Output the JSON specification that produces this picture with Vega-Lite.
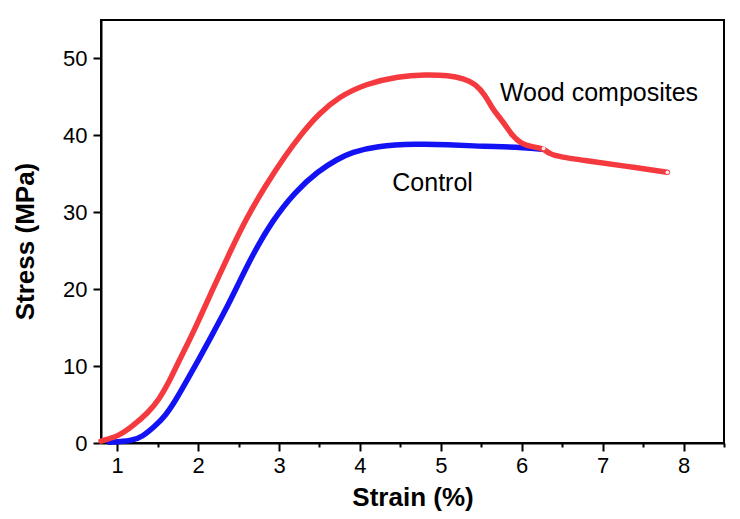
{
  "$schema": "https://vega.github.io/schema/vega-lite/v6.json",
  "width": 623,
  "height": 423,
  "autosize": {"type": "none"},
  "padding": {"left": 101, "top": 20, "right": 16, "bottom": 76},
  "config": {
    "view": {"stroke": "black", "strokeWidth": 2},
    "font": "Liberation Sans"
  },
  "datasets": {
    "control": [
      {"series": "Control", "strain": 0.9, "stress": 0.1},
      {"series": "Control", "strain": 1.18, "stress": 0.25},
      {"series": "Control", "strain": 1.31, "stress": 0.8},
      {"series": "Control", "strain": 1.47, "stress": 2.2},
      {"series": "Control", "strain": 1.6, "stress": 3.6},
      {"series": "Control", "strain": 1.72, "stress": 5.5},
      {"series": "Control", "strain": 1.85, "stress": 7.9},
      {"series": "Control", "strain": 2.01, "stress": 10.9},
      {"series": "Control", "strain": 2.17, "stress": 14.0},
      {"series": "Control", "strain": 2.34, "stress": 17.3},
      {"series": "Control", "strain": 2.48, "stress": 20.3},
      {"series": "Control", "strain": 2.67, "stress": 24.4},
      {"series": "Control", "strain": 2.91, "stress": 28.8},
      {"series": "Control", "strain": 3.2, "stress": 32.7},
      {"series": "Control", "strain": 3.49, "stress": 35.4},
      {"series": "Control", "strain": 3.72, "stress": 36.9},
      {"series": "Control", "strain": 3.9, "stress": 37.8},
      {"series": "Control", "strain": 4.2, "stress": 38.6},
      {"series": "Control", "strain": 4.69, "stress": 38.9},
      {"series": "Control", "strain": 5.1, "stress": 38.8},
      {"series": "Control", "strain": 5.43, "stress": 38.6},
      {"series": "Control", "strain": 5.63, "stress": 38.6},
      {"series": "Control", "strain": 6.05, "stress": 38.4},
      {"series": "Control", "strain": 6.25, "stress": 38.2}
    ],
    "wood": [
      {"series": "Wood composites", "strain": 0.8, "stress": 0.25},
      {"series": "Wood composites", "strain": 1.02, "stress": 0.9},
      {"series": "Wood composites", "strain": 1.18, "stress": 2.1},
      {"series": "Wood composites", "strain": 1.39, "stress": 4.0},
      {"series": "Wood composites", "strain": 1.52, "stress": 5.7},
      {"series": "Wood composites", "strain": 1.64, "stress": 7.9},
      {"series": "Wood composites", "strain": 1.76, "stress": 10.6},
      {"series": "Wood composites", "strain": 1.89, "stress": 13.3},
      {"series": "Wood composites", "strain": 2.01, "stress": 16.0},
      {"series": "Wood composites", "strain": 2.13, "stress": 18.8},
      {"series": "Wood composites", "strain": 2.23, "stress": 21.1},
      {"series": "Wood composites", "strain": 2.38, "stress": 24.5},
      {"series": "Wood composites", "strain": 2.59, "stress": 29.1},
      {"series": "Wood composites", "strain": 2.84, "stress": 33.6},
      {"series": "Wood composites", "strain": 3.08, "stress": 37.4},
      {"series": "Wood composites", "strain": 3.27, "stress": 40.1},
      {"series": "Wood composites", "strain": 3.49, "stress": 42.8},
      {"series": "Wood composites", "strain": 3.74, "stress": 45.0},
      {"series": "Wood composites", "strain": 4.07, "stress": 46.7},
      {"series": "Wood composites", "strain": 4.48, "stress": 47.7},
      {"series": "Wood composites", "strain": 4.81, "stress": 47.9},
      {"series": "Wood composites", "strain": 5.1, "stress": 47.8},
      {"series": "Wood composites", "strain": 5.28, "stress": 47.4},
      {"series": "Wood composites", "strain": 5.43, "stress": 46.7},
      {"series": "Wood composites", "strain": 5.55, "stress": 45.2},
      {"series": "Wood composites", "strain": 5.63, "stress": 43.6},
      {"series": "Wood composites", "strain": 5.72, "stress": 42.4},
      {"series": "Wood composites", "strain": 5.8, "stress": 41.3},
      {"series": "Wood composites", "strain": 5.88, "stress": 40.0},
      {"series": "Wood composites", "strain": 5.99, "stress": 38.9},
      {"series": "Wood composites", "strain": 6.13, "stress": 38.5},
      {"series": "Wood composites", "strain": 6.27, "stress": 38.3},
      {"series": "Wood composites", "strain": 6.34, "stress": 37.6},
      {"series": "Wood composites", "strain": 6.46, "stress": 37.2},
      {"series": "Wood composites", "strain": 6.87, "stress": 36.6},
      {"series": "Wood composites", "strain": 7.28, "stress": 36.0},
      {"series": "Wood composites", "strain": 7.8, "stress": 35.2}
    ],
    "labels": [
      {"label": "Wood composites", "strain": 5.73, "stress": 44.5},
      {"label": "Control", "strain": 4.4, "stress": 32.8}
    ],
    "ends": [
      {"strain": 7.8, "stress": 35.2},
      {"strain": 6.27, "stress": 38.3}
    ]
  },
  "layer": [
    {
      "data": {"name": "control"},
      "mark": {"type": "line", "strokeWidth": 5.5, "interpolate": "basis", "strokeCap": "round", "color": "#1212f5"},
      "encoding": {
        "x": {
          "field": "strain", "type": "quantitative",
          "scale": {"domain": [0.8, 8.5], "nice": false, "zero": false},
          "axis": {
            "title": "Strain (%)",
            "values": [1, 1.5, 2, 2.5, 3, 3.5, 4, 4.5, 5, 5.5, 6, 6.5, 7, 7.5, 8, 8.5],
            "labelExpr": "datum.value % 1 === 0 ? format(datum.value, 'd') : ''",
            "tickSize": {"condition": {"test": "datum.value % 1 === 0", "value": 8}, "value": 4},
            "grid": false,
            "domainColor": "black", "domainWidth": 2,
            "tickColor": "black", "tickWidth": 2,
            "labelFontSize": 22, "labelColor": "black", "labelPadding": 4,
            "labelFont": "Liberation Sans",
            "titleFontSize": 26, "titleFontWeight": "bold", "titleColor": "black",
            "titleFont": "Liberation Sans", "titlePadding": 8
          }
        },
        "y": {
          "field": "stress", "type": "quantitative",
          "scale": {"domain": [0, 55], "nice": false},
          "axis": {
            "title": "Stress (MPa)",
            "values": [0, 5, 10, 15, 20, 25, 30, 35, 40, 45, 50, 55],
            "labelExpr": "datum.value % 10 === 0 ? format(datum.value, 'd') : ''",
            "tickSize": {"condition": {"test": "datum.value % 10 === 0", "value": 8}, "value": 4},
            "grid": false,
            "domainColor": "black", "domainWidth": 2,
            "tickColor": "black", "tickWidth": 2,
            "labelFontSize": 22, "labelColor": "black", "labelPadding": 6,
            "labelFont": "Liberation Sans",
            "titleFontSize": 26, "titleFontWeight": "bold", "titleColor": "black",
            "titleFont": "Liberation Sans", "titlePadding": 24, "titleY": 221
          }
        }
      }
    },
    {
      "data": {"name": "wood"},
      "mark": {"type": "line", "strokeWidth": 5.5, "interpolate": "basis", "strokeCap": "round", "color": "#f53a3f"},
      "encoding": {
        "x": {"field": "strain", "type": "quantitative"},
        "y": {"field": "stress", "type": "quantitative"}
      }
    },
    {
      "data": {"name": "ends"},
      "mark": {"type": "point", "shape": "circle", "filled": true, "size": 14, "color": "#ffe8e8", "opacity": 1},
      "encoding": {
        "x": {"field": "strain", "type": "quantitative"},
        "y": {"field": "stress", "type": "quantitative"}
      }
    },
    {
      "data": {"name": "labels"},
      "mark": {"type": "text", "align": "left", "baseline": "alphabetic", "fontSize": 25, "font": "Liberation Sans", "color": "black"},
      "encoding": {
        "x": {"field": "strain", "type": "quantitative"},
        "y": {"field": "stress", "type": "quantitative"},
        "text": {"field": "label"}
      }
    }
  ]
}
